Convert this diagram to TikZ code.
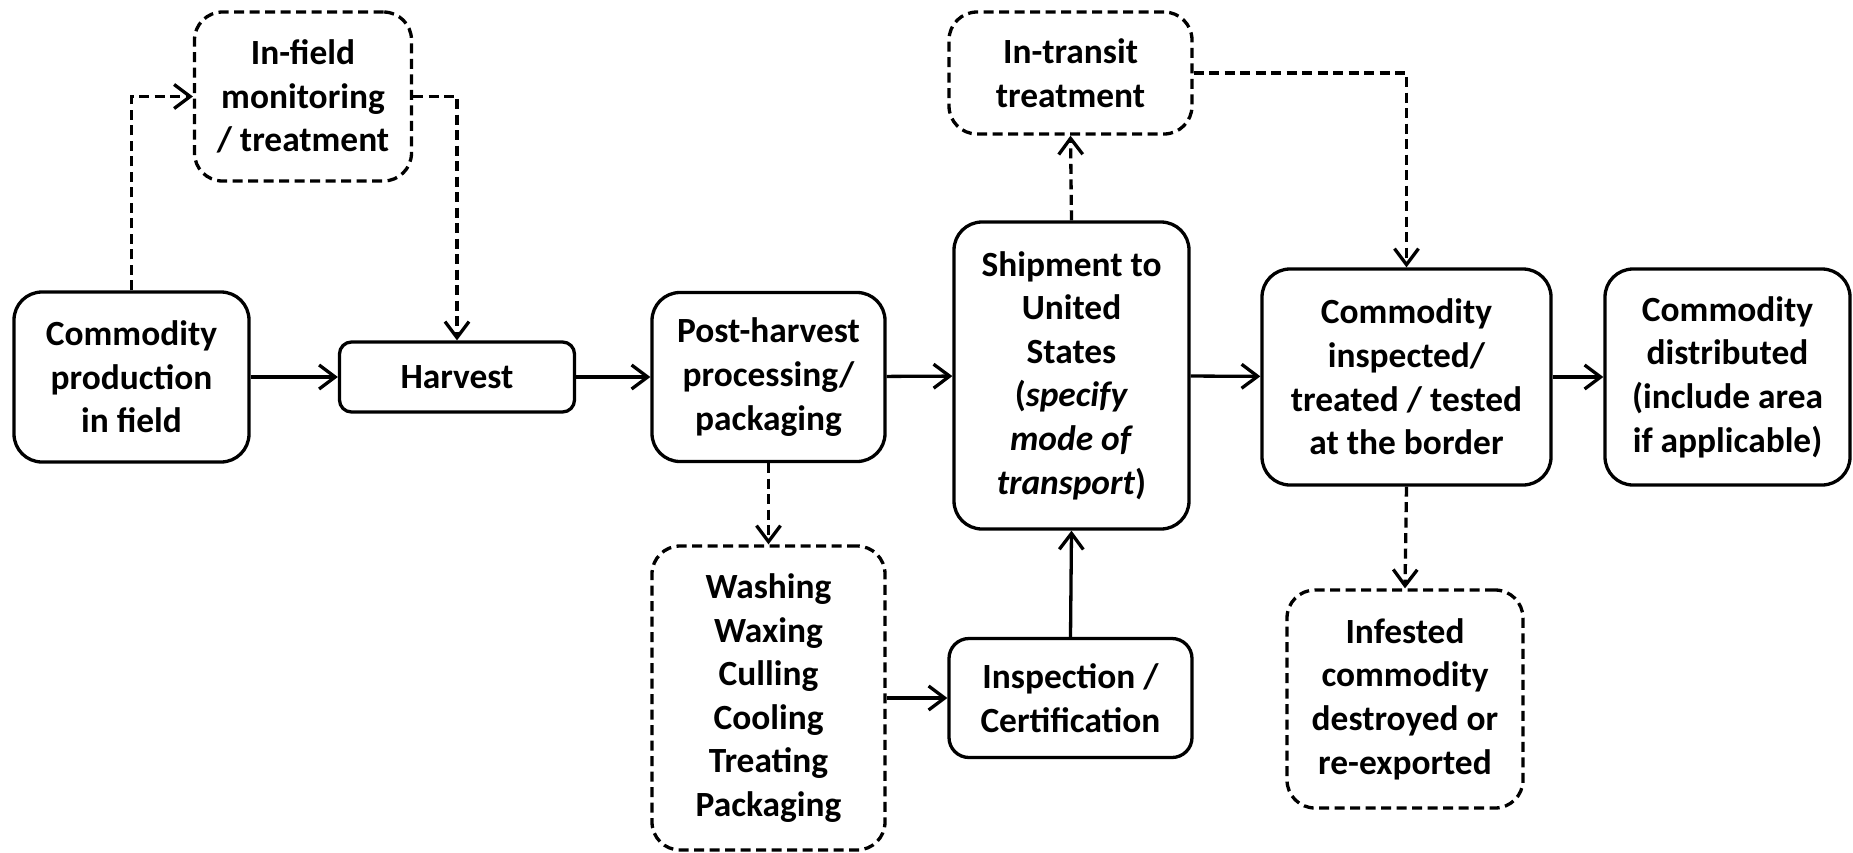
\documentclass[tikz,border=0pt]{standalone}
\usepackage{fontspec}
\setmainfont{Carlito}
\usetikzlibrary{arrows.meta}
\tikzset{
  box/.style={draw=black, line width=3.3pt, rounded corners=28pt, align=center,
    inner sep=0pt, font=\bfseries\fontsize{35.4}{43.6}\selectfont},
  dbox/.style={box, dash pattern=on 10pt off 5.5pt},
  arr/.style={line width=3.3pt, -{Straight Barb[length=16pt,width=24pt,line width=3.3pt]}},
  darr/.style={arr, dash pattern=on 10pt off 5.5pt}
}
\begin{document}
\begin{tikzpicture}[x=1pt,y=-1pt]
\useasboundingbox (0,0) rectangle (1853,852);
\node[box, minimum width=235pt, minimum height=170pt] (cp) at (131.5,377) {Commodity\\production\\in field};
\node[box, rounded corners=12pt, minimum width=235pt, minimum height=70pt] (h) at (457,377) {Harvest};
\node[dbox, minimum width=217pt, minimum height=169pt] (inf) at (303,96.5) {In-field\\monitoring\\/ treatment};
\node[box, minimum width=233pt, minimum height=169pt] (ph) at (768.5,377) {Post-harvest\\processing/\\packaging};
\node[dbox, minimum width=233pt, minimum height=304pt] (wash) at (768.5,698) {Washing\\Waxing\\Culling\\Cooling\\Treating\\Packaging};
\node[box, minimum width=235pt, minimum height=307pt] (ship) at (1071.5,375.5) {Shipment to\\United\\States\\(\textit{specify}\\\textit{mode of}\\\textit{transport})};
\node[dbox, minimum width=243pt, minimum height=122pt] (trans) at (1070.5,73) {In-transit\\treatment};
\node[box, rounded corners=20pt, minimum width=243pt, minimum height=119pt] (insp) at (1070.5,698) {Inspection /\\Certification};
\node[box, minimum width=289pt, minimum height=216pt] (ci) at (1406.5,377) {Commodity\\inspected/\\treated / tested\\at the border};
\node[box, minimum width=245pt, minimum height=216pt] (cd) at (1727.5,377) {Commodity\\distributed\\(include area\\if applicable)};
\node[dbox, minimum width=236pt, minimum height=218pt] (inf2) at (1405,699) {Infested\\commodity\\destroyed or\\re-exported};
\draw[arr] (cp) -- (h);
\draw[arr] (h) -- (ph);
\draw[arr] (ph) -- (ship);
\draw[arr] (ship) -- (ci);
\draw[arr] (ci) -- (cd);
\draw[darr] (cp.north) |- (inf.west);
\draw[darr] (inf.east) -| (h.north);
\draw[darr] (ph.south) -- (wash.north);
\draw[arr] (wash.east) -- (insp.west);
\draw[arr] (insp.north) -- (ship.south);
\draw[darr] (ship.north) -- (trans.south);
\draw[darr] (trans.east) -| (ci.north);
\draw[darr] (ci.south) -- (inf2.north);
\end{tikzpicture}
\end{document}
